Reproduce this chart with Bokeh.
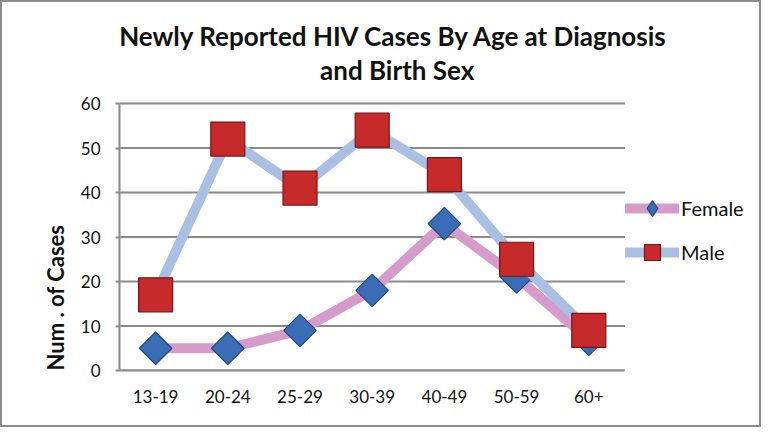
import math
from bokeh.plotting import figure
from bokeh.models import Range1d, Legend, LegendItem, FixedTicker, Title
from bokeh.core.properties import value
from bokeh.embed import file_html
from bokeh.resources import INLINE

categories = ["13-19", "20-24", "25-29", "30-39", "40-49", "50-59", "60+"]
female = [5, 5, 9, 18, 33, 21, 7]
male = [17, 52, 41, 54, 44, 25, 9]
y_ticks = [0, 10, 20, 30, 40, 50, 60]
title_lines = ["Newly Reported HIV Cases By  Age at Diagnosis", "and Birth Sex"]
y_label = "Num . of Cases"

FONT = "Lato"
GRID = "#8a8a8a"
TXT = "#111111"

# layout constants (pixels)
W, H = 761, 427
LEFT, BOTTOM = 117, 59
PX_X, PX_Y = 72.2, 4.45
n = len(categories)
y_max = y_ticks[-1]
xs = [i + 0.5 for i in range(n)]

p = figure(x_range=Range1d(0, (W - LEFT) / PX_X), y_range=Range1d(0, (H - BOTTOM) / PX_Y),
           width=W, height=H, output_backend="svg", toolbar_location=None,
           title_location=None,
           min_border_left=LEFT, min_border_right=0, min_border_top=0, min_border_bottom=BOTTOM,
           styles={"border": "2px solid #8c8c8c"})
p.outline_line_color = None
p.background_fill_color = "white"
p.xgrid.visible = False
p.ygrid.visible = False

# horizontal gridlines limited to the plot area
p.segment(x0=[0] * len(y_ticks), x1=[n] * len(y_ticks), y0=y_ticks, y1=y_ticks,
          line_color=GRID, line_width=2)

p.xaxis.ticker = FixedTicker(ticks=xs)
p.xaxis.major_label_overrides = {x: c for x, c in zip(xs, categories)}
p.xaxis.bounds = (0, n)
p.yaxis.ticker = FixedTicker(ticks=y_ticks)
p.yaxis.bounds = (0, y_max)

for ax in (p.xaxis, p.yaxis):
    ax.axis_line_color = GRID
    ax.axis_line_width = 2
    ax.major_label_text_font = FONT
    ax.major_label_text_font_size = "17px"
    ax.major_label_text_color = TXT
    ax.minor_tick_line_color = None
p.xaxis.major_tick_line_color = None
p.xaxis.major_label_standoff = 13
p.yaxis.major_tick_line_color = GRID
p.yaxis.major_tick_line_width = 2
p.yaxis.major_tick_in = 0
p.yaxis.major_tick_out = 4
p.yaxis.major_label_standoff = 15

# y label as a left-side title so it can sit lower, like the reference
p.add_layout(Title(text=y_label, text_font=FONT, text_font_style="bold", text_font_size="22px",
                   text_color=TXT, align="left", standoff=18), "left")

fl = p.line(xs, female, line_color="#d79bcb", line_width=10, line_join="round", line_cap="round")
fm = p.scatter(xs, female, marker="square", angle=math.pi / 4, size=23,
               fill_color="#3a6db5", line_color="#1f4a86", line_width=1.2)
ml = p.line(xs, male, line_color="#a9c0e4", line_width=10, line_join="round", line_cap="round")
mm = p.scatter(xs, male, marker="square", size=34,
               fill_color="#c62a2a", line_color="#7a1414", line_width=1.2)
# legend-only diamond (the legend does not rotate markers)
fm_leg = p.scatter(xs, female, marker="diamond", size=23,
                   fill_color="#3a6db5", line_color="#1f4a86", line_width=1.2, visible=False)

legend = Legend(items=[LegendItem(label="Female", renderers=[fl, fm_leg]),
                       LegendItem(label="Male", renderers=[ml, mm])],
                location=(506, 98), orientation="vertical",
                glyph_width=54, glyph_height=40, label_height=40, spacing=4,
                padding=0, margin=0, label_standoff=2,
                label_text_font=FONT, label_text_font_size="20px", label_text_color=TXT,
                border_line_color=None, background_fill_alpha=0)
p.add_layout(legend, "center")

p.text(x=[3.846, 3.846], y=[75.06, 67.5], text=title_lines,
       text_font=value(FONT), text_font_style="bold", text_font_size="26px",
       text_align="center", text_baseline="middle", text_color=TXT)

open("out.html", "w").write(file_html(p, INLINE))
